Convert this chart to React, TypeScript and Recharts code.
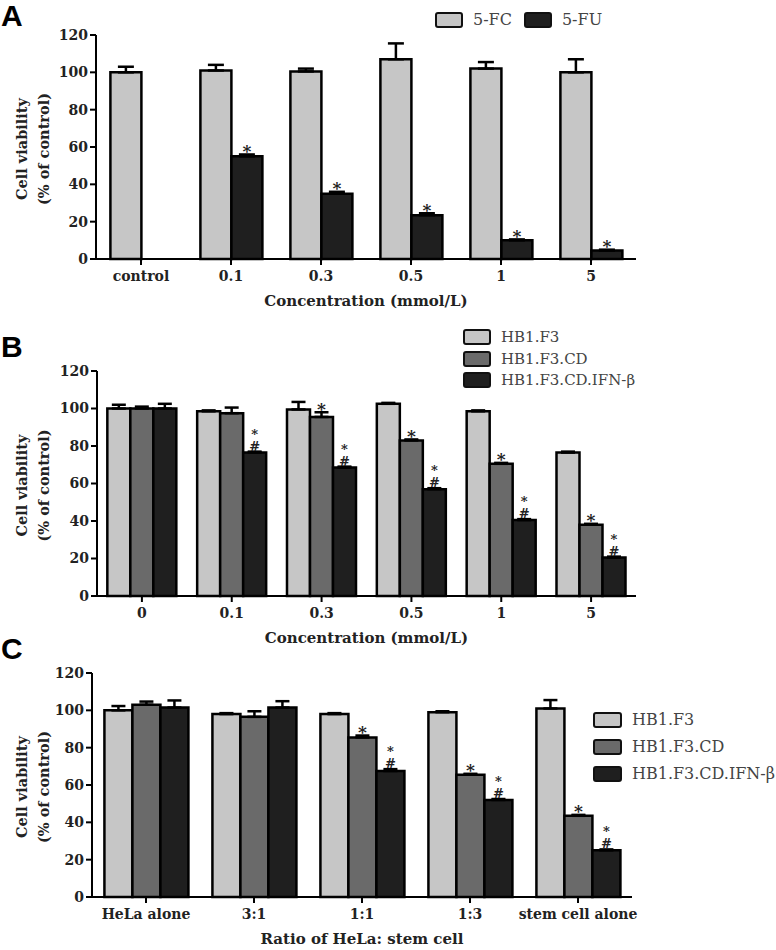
import { Bar, BarChart, ErrorBar, LabelList, Legend, XAxis, YAxis } from 'recharts'

// panel A
const concA = ['control', '0.1', '0.3', '0.5', '1', '5']
const fcA = [100, 101, 100.5, 107, 102, 100]
const fcErrA = [3, 3, 1.5, 8.5, 3.5, 7]
const fuA = [0, 55, 35, 23.5, 10, 4.5]
const fuErrA = [0, 1, 1, 1, 0.5, 0.5]
const fuSigA = ['', '*', '*', '*', '*', '*']

// panel B
const concB = ['0', '0.1', '0.3', '0.5', '1', '5']
const f3B = [100, 98.5, 99.5, 102.5, 98.5, 76.5]
const f3ErrB = [2, 0.5, 4, 0.5, 0.5, 0.5]
const cdB = [100, 97.5, 95.5, 83, 70.5, 38]
const cdErrB = [1, 3, 2.5, 0.5, 0.5, 0.5]
const ifnB = [100, 76.5, 68.5, 57, 40.5, 20.5]
const ifnErrB = [2.5, 0.5, 0.5, 0.5, 0.5, 0.5]
const cdSigB = ['', '', '*', '*', '*', '*']
const ifnSigB = ['', '*#', '*#', '*#', '*#', '*#']

// panel C
const ratioC = ['HeLa alone', '3:1', '1:1', '1:3', 'stem cell alone']
const f3C = [100, 98, 98, 99, 101]
const f3ErrC = [2.3, 0.5, 0.5, 0.5, 4.5]
const cdC = [103, 96.5, 85.5, 65.5, 43.5]
const cdErrC = [1.7, 3, 1, 0.5, 0.5]
const ifnC = [101.5, 101.5, 67.5, 52, 25]
const ifnErrC = [3.8, 3.4, 1, 0.5, 0.5]
const cdSigC = ['', '', '*', '*', '*']
const ifnSigC = ['', '', '*#', '*#', '*#']

const yTicks = [0, 20, 40, 60, 80, 100, 120]

const LIGHT = '#c6c6c6'
const MID = '#6a6a6a'
const DARK = '#1f1f1f'
const INK = '#222'
const SERIF = '"DejaVu Serif", serif'

const dataA = concA.map((name, i) => ({
  name,
  fc: fcA[i],
  fcErr: [0, fcErrA[i]],
  fu: fuA[i],
  fuErr: [0, fuErrA[i]],
  fuSig: fuSigA[i],
}))

const dataB = concB.map((name, i) => ({
  name,
  f3: f3B[i],
  f3Err: [0, f3ErrB[i]],
  cd: cdB[i],
  cdErr: [0, cdErrB[i]],
  ifn: ifnB[i],
  ifnErr: [0, ifnErrB[i]],
  cdSig: cdSigB[i],
  ifnSig: ifnSigB[i],
}))

const dataC = ratioC.map((name, i) => ({
  name,
  f3: f3C[i],
  f3Err: [0, f3ErrC[i]],
  cd: cdC[i],
  cdErr: [0, cdErrC[i]],
  ifn: ifnC[i],
  ifnErr: [0, ifnErrC[i]],
  cdSig: cdSigC[i],
  ifnSig: ifnSigC[i],
}))

// label value is "sig|err" so it does not depend on the label index
const sigKey = (sig: string, err: string) => (d: any) => (d[sig] ? `${d[sig]}|${d[err][1]}` : '')

function makeSig(pxPerUnit: number) {
  return (p: any) => {
    const v = String(p.value ?? '')
    if (!v) return null
    const [s, e] = v.split('|')
    const vb = p.viewBox || p
    const top = Math.min(vb.y, vb.y + vb.height) - Number(e) * pxPerUnit
    const cx = vb.x + vb.width / 2
    if (s === '*') {
      return (
        <text x={cx} y={top + 2.5} textAnchor="middle" fontFamily={SERIF} fontWeight={700} fontSize={17} fill={INK}>
          *
        </text>
      )
    }
    // stacked "*" over "#", drawn as one upright vertical text
    return (
      <text
        x={cx}
        y={top - 1}
        textAnchor="end"
        fontFamily={SERIF}
        fontWeight={700}
        fontSize={13}
        fill={INK}
        letterSpacing={-3}
        style={{ writingMode: 'vertical-rl', textOrientation: 'upright' } as any}
      >
        {s}
      </text>
    )
  }
}

const yLabel = (p: any) => {
  const vb = p.viewBox
  const cy = vb.y + vb.height / 2 + 2
  const style = { fontFamily: SERIF, fontWeight: 700, fontSize: 14.5, fill: INK }
  return (
    <g>
      <text x={21} y={cy} transform={`rotate(-90 21 ${cy})`} textAnchor="middle" dominantBaseline="central" style={style}>
        Cell viability
      </text>
      <text x={43} y={cy} transform={`rotate(-90 43 ${cy})`} textAnchor="middle" dominantBaseline="central" style={style}>
        (% of control)
      </text>
    </g>
  )
}

function legendBox(items: { label: string; color: string }[], gap: number, boxW: number, fontSize: number, row: boolean) {
  return () => (
    <div style={{ display: 'flex', flexDirection: row ? 'row' : 'column', gap: row ? 12 : gap - 14 }}>
      {items.map((it) => (
        <div key={it.label} style={{ display: 'flex', alignItems: 'center', height: 14 }}>
          <div
            style={{
              width: boxW,
              height: 12,
              background: it.color,
              border: '2.5px solid #111',
              borderRadius: 3,
              marginRight: 10,
            }}
          />
          <span style={{ fontFamily: SERIF, fontSize, color: '#444', lineHeight: '14px', whiteSpace: 'nowrap' }}>
            {it.label}
          </span>
        </div>
      ))}
    </div>
  )
}

const axisStyle = { stroke: '#000', strokeWidth: 2 }
const tickFont = { fill: INK, fontSize: 14, fontWeight: 700, fontFamily: SERIF }
const titleStyle = { fill: INK, fontSize: 15, fontWeight: 700, fontFamily: SERIF }

export default function App() {
  const pxA = 224 / 120
  const pxB = 225 / 120
  const pxC = 224 / 120
  return (
    <div style={{ position: 'absolute', left: 0, top: 0, width: 776, height: 950, background: '#fff' }}>
      {/* A */}
      <div style={{ position: 'absolute', left: 0, top: 0 }}>
        <BarChart width={776} height={320} data={dataA} margin={{ top: 35, right: 140, left: 0, bottom: 31 }} barCategoryGap="16%" barGap={0}>
          <XAxis
            dataKey="name"
            interval={0}
            height={30}
            tickSize={6}
            tickMargin={6}
            axisLine={axisStyle}
            tickLine={axisStyle}
            tick={tickFont}
            label={{ value: 'Concentration (mmol/L)', position: 'bottom', offset: 6, ...titleStyle }}
          />
          <YAxis
            width={96}
            domain={[0, 120]}
            ticks={yTicks}
            tickSize={6}
            tickMargin={2}
            axisLine={axisStyle}
            tickLine={axisStyle}
            tick={tickFont}
            label={yLabel}
          />
          <Legend
            layout="horizontal"
            verticalAlign="middle"
            align="center"
            wrapperStyle={{ position: 'absolute', left: 435, top: 13, width: 'auto' }}
            content={legendBox(
              [
                { label: '5-FC', color: LIGHT },
                { label: '5-FU', color: DARK },
              ],
              0,
              24,
              16,
              true,
            )}
          />
          <Bar dataKey="fc" fill={LIGHT} stroke="#000" strokeWidth={2.5} isAnimationActive={false}>
            <ErrorBar dataKey="fcErr" direction="y" width={8} stroke="#000" strokeWidth={2.5} />
          </Bar>
          <Bar dataKey="fu" fill={DARK} stroke="#000" strokeWidth={2.5} isAnimationActive={false}>
            <ErrorBar dataKey="fuErr" direction="y" width={8} stroke="#000" strokeWidth={2.5} />
            <LabelList dataKey={sigKey('fuSig', 'fuErr')} content={makeSig(pxA)} />
          </Bar>
        </BarChart>
      </div>

      {/* B */}
      <div style={{ position: 'absolute', left: 0, top: 320 }}>
        <BarChart width={776} height={330} data={dataB} margin={{ top: 51, right: 140, left: 0, bottom: 24 }} barCategoryGap="11.5%" barGap={0}>
          <XAxis
            dataKey="name"
            interval={0}
            height={30}
            tickSize={6}
            tickMargin={6}
            axisLine={axisStyle}
            tickLine={axisStyle}
            tick={tickFont}
            label={{ value: 'Concentration (mmol/L)', position: 'bottom', offset: 6, ...titleStyle }}
          />
          <YAxis
            width={97}
            domain={[0, 120]}
            ticks={yTicks}
            tickSize={6}
            tickMargin={2}
            axisLine={axisStyle}
            tickLine={axisStyle}
            tick={tickFont}
            label={yLabel}
          />
          <Legend
            layout="horizontal"
            verticalAlign="middle"
            align="center"
            wrapperStyle={{ position: 'absolute', left: 463, top: 10, width: 'auto' }}
            content={legendBox(
              [
                { label: 'HB1.F3', color: LIGHT },
                { label: 'HB1.F3.CD', color: MID },
                { label: 'HB1.F3.CD.IFN-β', color: DARK },
              ],
              21.5,
              24,
              15,
              false,
            )}
          />
          <Bar dataKey="f3" fill={LIGHT} stroke="#000" strokeWidth={2.5} isAnimationActive={false}>
            <ErrorBar dataKey="f3Err" direction="y" width={7} stroke="#000" strokeWidth={2.5} />
          </Bar>
          <Bar dataKey="cd" fill={MID} stroke="#000" strokeWidth={2.5} isAnimationActive={false}>
            <ErrorBar dataKey="cdErr" direction="y" width={7} stroke="#000" strokeWidth={2.5} />
            <LabelList dataKey={sigKey('cdSig', 'cdErr')} content={makeSig(pxB)} />
          </Bar>
          <Bar dataKey="ifn" fill={DARK} stroke="#000" strokeWidth={2.5} isAnimationActive={false}>
            <ErrorBar dataKey="ifnErr" direction="y" width={7} stroke="#000" strokeWidth={2.5} />
            <LabelList dataKey={sigKey('ifnSig', 'ifnErr')} content={makeSig(pxB)} />
          </Bar>
        </BarChart>
      </div>

      {/* C */}
      <div style={{ position: 'absolute', left: 0, top: 630 }}>
        <BarChart width={776} height={320} data={dataC} margin={{ top: 43, right: 144, left: 0, bottom: 23 }} barCategoryGap="11.5%" barGap={0}>
          <XAxis
            dataKey="name"
            interval={0}
            height={30}
            tickSize={6}
            tickMargin={6}
            axisLine={axisStyle}
            tickLine={axisStyle}
            tick={tickFont}
            label={{ value: 'Ratio of HeLa: stem cell', position: 'bottom', offset: 6, ...titleStyle }}
          />
          <YAxis
            width={92}
            domain={[0, 120]}
            ticks={yTicks}
            tickSize={6}
            tickMargin={2}
            axisLine={axisStyle}
            tickLine={axisStyle}
            tick={tickFont}
            label={yLabel}
          />
          <Legend
            layout="horizontal"
            verticalAlign="middle"
            align="center"
            wrapperStyle={{ position: 'absolute', left: 593, top: 83, width: 'auto' }}
            content={legendBox(
              [
                { label: 'HB1.F3', color: LIGHT },
                { label: 'HB1.F3.CD', color: MID },
                { label: 'HB1.F3.CD.IFN-β', color: DARK },
              ],
              27,
              25,
              16,
              false,
            )}
          />
          <Bar dataKey="f3" fill={LIGHT} stroke="#000" strokeWidth={2.5} isAnimationActive={false}>
            <ErrorBar dataKey="f3Err" direction="y" width={7} stroke="#000" strokeWidth={2.5} />
          </Bar>
          <Bar dataKey="cd" fill={MID} stroke="#000" strokeWidth={2.5} isAnimationActive={false}>
            <ErrorBar dataKey="cdErr" direction="y" width={7} stroke="#000" strokeWidth={2.5} />
            <LabelList dataKey={sigKey('cdSig', 'cdErr')} content={makeSig(pxC)} />
          </Bar>
          <Bar dataKey="ifn" fill={DARK} stroke="#000" strokeWidth={2.5} isAnimationActive={false}>
            <ErrorBar dataKey="ifnErr" direction="y" width={7} stroke="#000" strokeWidth={2.5} />
            <LabelList dataKey={sigKey('ifnSig', 'ifnErr')} content={makeSig(pxC)} />
          </Bar>
        </BarChart>
      </div>

      <svg width={776} height={950} style={{ position: 'absolute', left: 0, top: 0, pointerEvents: 'none' }}>
        <g fontFamily='"Liberation Sans", Arial, sans-serif' fontWeight={700} fontSize={30} fill="#000">
          <text x={1} y={26}>A</text>
          <text x={1} y={357}>B</text>
          <text x={1} y={659}>C</text>
        </g>
      </svg>
    </div>
  )
}
